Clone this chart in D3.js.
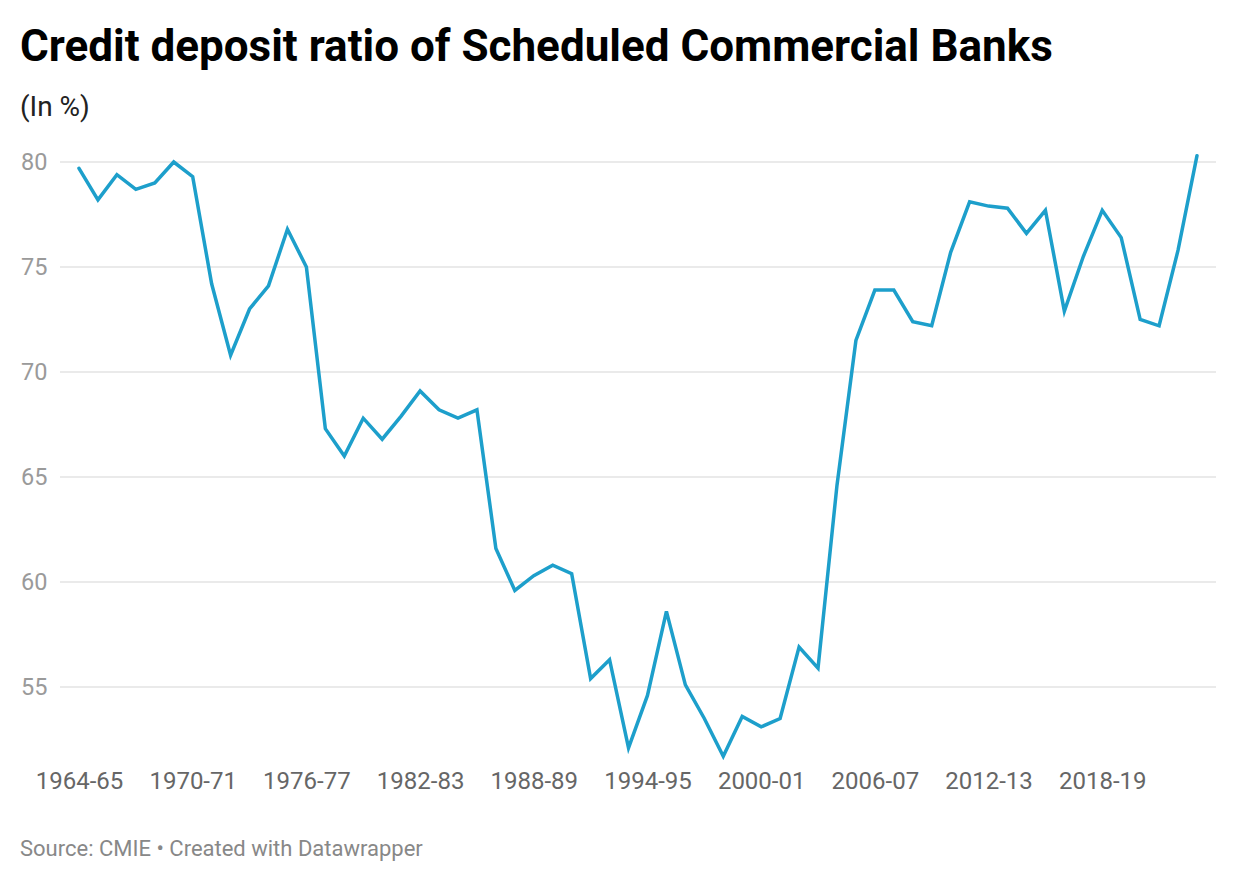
<!DOCTYPE html>
<html>
  <head>
    <meta charset="utf-8">
    <title>Credit deposit ratio</title>
    <script src="https://cdnjs.cloudflare.com/ajax/libs/d3/7.8.5/d3.min.js"></script>
    <style type="text/css" media="screen">
      body {
        margin: 0;
        background: #fff;
        font-family: Roboto, "Noto Sans", sans-serif;
      }
      .grid line {
        stroke: #e3e3e3;
        stroke-width: 1.5px;
      }
    </style>
  </head>
  <body>
    <script>
      // years, one per financial year
      var years = [
        '1964-65','1965-66','1966-67','1967-68','1968-69','1969-70','1970-71','1971-72','1972-73','1973-74',
        '1974-75','1975-76','1976-77','1977-78','1978-79','1979-80','1980-81','1981-82','1982-83','1983-84',
        '1984-85','1985-86','1986-87','1987-88','1988-89','1989-90','1990-91','1991-92','1992-93','1993-94',
        '1994-95','1995-96','1996-97','1997-98','1998-99','1999-00','2000-01','2001-02','2002-03','2003-04',
        '2004-05','2005-06','2006-07','2007-08','2008-09','2009-10','2010-11','2011-12','2012-13','2013-14',
        '2014-15','2015-16','2016-17','2017-18','2018-19','2019-20','2020-21','2021-22','2022-23','2023-24'
      ];

      var ratio = [
        79.7, 78.2, 79.4, 78.7, 79.0, 80.0, 79.3, 74.2, 70.8, 73.0,
        74.1, 76.8, 75.0, 67.3, 66.0, 67.8, 66.8, 67.9, 69.1, 68.2,
        67.8, 68.2, 61.6, 59.6, 60.3, 60.8, 60.4, 55.4, 56.3, 52.1,
        54.6, 58.6, 55.1, 53.5, 51.7, 53.6, 53.1, 53.5, 56.9, 55.9,
        64.6, 71.5, 73.9, 73.9, 72.4, 72.2, 75.7, 78.1, 77.9, 77.8,
        76.6, 77.7, 72.9, 75.5, 77.7, 76.4, 72.5, 72.2, 75.8, 80.3
      ];

      var yTicks = [55, 60, 65, 70, 75, 80];
      var xTicks = ['1964-65','1970-71','1976-77','1982-83','1988-89','1994-95','2000-01','2006-07','2012-13','2018-19'];

      var w = 1240;
      var h = 882;

      var svg = d3.select('body')
                  .append('svg')
                    .attr('width', w)
                    .attr('height', h);

      // header
      svg.append('text')
         .attr('x', 20)
         .attr('y', 61)
         .attr('font-size', 44)
         .attr('font-weight', 700)
         .attr('fill', '#000')
         .text('Credit deposit ratio of Scheduled Commercial Banks');

      svg.append('text')
         .attr('x', 20)
         .attr('y', 116)
         .attr('font-size', 28)
         .attr('fill', '#222')
         .text('(In %)');

      var x = d3.scalePoint()
                .domain(years)
                .range([79, 1197]);

      var y = d3.scaleLinear()
                .domain([55, 80])
                .range([687, 162]);

      // gridlines
      var grid = svg.append('g').attr('class', 'grid');
      grid.selectAll('line')
          .data(yTicks)
          .enter()
          .append('line')
            .attr('x1', 60)
            .attr('x2', 1216)
            .attr('y1', function(d) { return y(d) })
            .attr('y2', function(d) { return y(d) });

      svg.append('g')
         .selectAll('text')
         .data(yTicks)
         .enter()
         .append('text')
           .attr('x', 21)
           .attr('y', function(d) { return y(d) })
           .attr('dy', '0.36em')
           .attr('font-size', 23.5)
           .attr('fill', '#9a9a9a')
           .text(function(d) { return d });

      // x axis labels
      var xAxis = d3.axisBottom(x)
                    .tickValues(xTicks)
                    .tickSize(0)
                    .tickPadding(0);

      var xg = svg.append('g')
                  .attr('transform', 'translate(0,772)')
                  .call(xAxis);
      xg.select('.domain').remove();
      xg.selectAll('text')
        .attr('font-family', 'Roboto, sans-serif')
        .attr('font-size', 24)
        .attr('fill', '#666')
        .attr('dy', '0.71em');

      // the line
      var line = d3.line()
                   .x(function(d, i) { return x(years[i]) })
                   .y(function(d) { return y(d) });

      svg.append('path')
         .datum(ratio)
         .attr('d', line)
         .attr('fill', 'none')
         .attr('stroke', '#1d9fcb')
         .attr('stroke-width', 3.5)
         .attr('stroke-linejoin', 'miter')
         .attr('stroke-linecap', 'round');

      // footer
      svg.append('text')
         .attr('x', 20)
         .attr('y', 856)
         .attr('font-size', 22)
         .attr('fill', '#888')
         .text('Source: CMIE \u2022 Created with Datawrapper');
    </script>
  </body>
</html>
